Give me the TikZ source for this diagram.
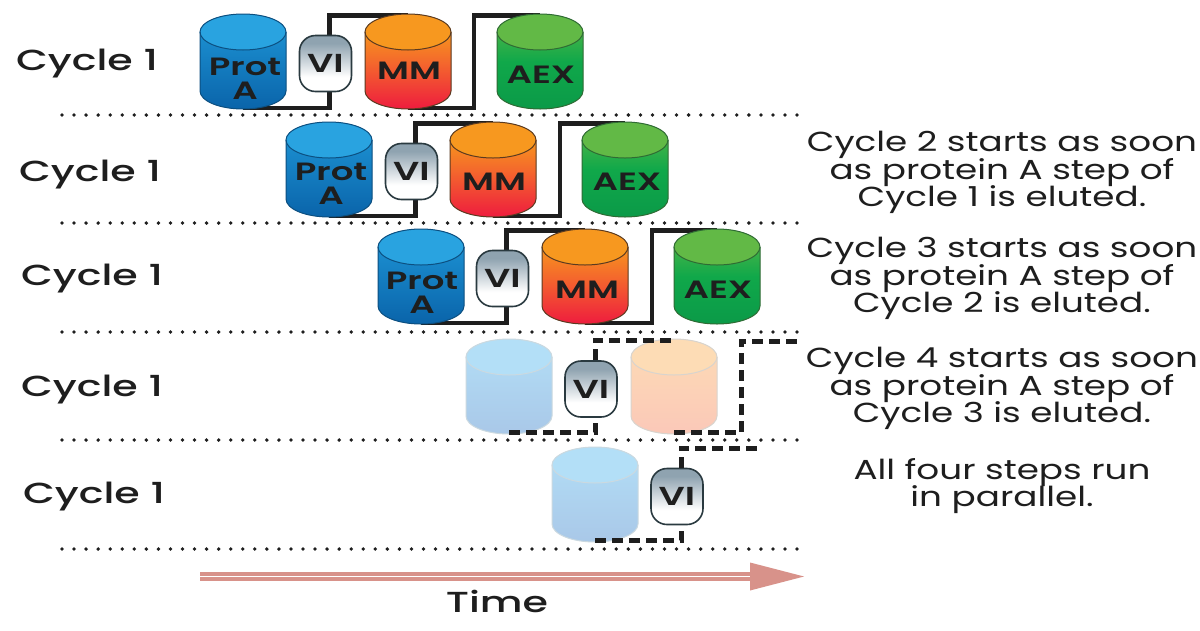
\documentclass[tikz,border=0pt]{standalone}
\usepackage{fontspec}
\setmainfont{Poppins}
\newfontfamily\notefont[FakeStretch=1.3]{Poppins}
\newfontfamily\cyclefont[FakeStretch=1.42]{Poppins Medium}
\newfontfamily\cylfont[FakeStretch=1.42]{Poppins SemiBold}
\usetikzlibrary{backgrounds}
\normallineskiplimit=-20pt\relax
\lineskiplimit=-20pt\relax
\definecolor{ink}{HTML}{1E1E1E}
\definecolor{edge}{HTML}{2A3A40}
\definecolor{shaft}{HTML}{D8928A}
\definecolor{vitop}{HTML}{8FA3B0}
\definecolor{protlo}{HTML}{0A64AA}
\definecolor{prothi}{HTML}{1F98D8}
\definecolor{protcap}{HTML}{29A3E0}
\definecolor{protedge}{HTML}{0C4F80}
\definecolor{mmlo}{HTML}{EE1C3E}
\definecolor{mmmid}{HTML}{F4692C}
\definecolor{mmhi}{HTML}{F7941E}
\definecolor{mmcap}{HTML}{F7981F}
\definecolor{mmedge}{HTML}{5A3A20}
\definecolor{aexlo}{HTML}{0B9A48}
\definecolor{aexmid}{HTML}{10A84A}
\definecolor{aexhi}{HTML}{62B946}
\definecolor{aexedge}{HTML}{2F6B34}
\definecolor{lplo}{HTML}{A9C8E8}
\definecolor{lphi}{HTML}{B3DFF7}
\definecolor{lpedge}{HTML}{CBD9E0}
\definecolor{lmlo}{HTML}{FBC8B8}
\definecolor{lmhi}{HTML}{FDDCB5}
\definecolor{lmedge}{HTML}{D8D4CE}
\pgfdeclareverticalshading{vishade}{100bp}{color(0bp)=(white); color(25bp)=(white); color(38bp)=(white); color(68bp)=(vitop); color(75bp)=(vitop); color(100bp)=(vitop)}
\pgfdeclareverticalshading{protshade}{100bp}{color(0bp)=(protlo); color(25bp)=(protlo); color(75bp)=(prothi); color(100bp)=(prothi)}
\pgfdeclareverticalshading{mmshade}{100bp}{color(0bp)=(mmlo); color(25bp)=(mmlo); color(50bp)=(mmmid); color(65bp)=(mmhi); color(75bp)=(mmhi); color(100bp)=(mmhi)}
\pgfdeclareverticalshading{aexshade}{100bp}{color(0bp)=(aexlo); color(25bp)=(aexlo); color(50bp)=(aexmid); color(75bp)=(aexhi); color(100bp)=(aexhi)}
\pgfdeclareverticalshading{lpshade}{100bp}{color(0bp)=(lplo); color(25bp)=(lplo); color(75bp)=(lphi); color(100bp)=(lphi)}
\pgfdeclareverticalshading{lmshade}{100bp}{color(0bp)=(lmlo); color(25bp)=(lmlo); color(75bp)=(lmhi); color(100bp)=(lmhi)}
\tikzset{
  x=1pt,y=-1pt,
  pipe/.style={draw=ink,line width=4.4pt,line join=miter},
  dashpipe/.style={draw=ink,line width=5pt,dash pattern=on 11pt off 6pt,line join=miter},
  dotline/.style={draw=ink,line width=3.8pt,line cap=round,dash pattern=on 0pt off 12.05pt},
  vibox/.style={draw=edge,line width=1.6pt,rounded corners=16pt,shading=vishade,minimum width=52pt,minimum height=56pt,inner sep=0pt,text=ink,font=\cylfont\fontsize{26}{26}\selectfont},
  anchorbox/.style={minimum width=86pt,minimum height=92pt,inner sep=0pt},
  cyllabel/.style={text=ink,inner sep=0pt,align=center,font=\cylfont\fontsize{25}{24}\selectfont},
  cyclelabel/.style={text=ink,inner sep=0pt,font=\cyclefont\fontsize{29}{29}\selectfont},
  notelabel/.style={text=ink,inner sep=0pt,align=center,font=\notefont\fontsize{27.5}{27.2}\selectfont},
  prot/.style={shading=protshade},
  mm/.style={shading=mmshade},
  aex/.style={shading=aexshade},
  lprot/.style={shading=lpshade},
  lmm/.style={shading=lmshade},
}
% name, cx, top, body style, cap colour, edge colour
\newcommand{\cylshape}[6]{%
  \path[#4] ({#2-43},{#3+18}) -- ({#2-43},{#3+77}) arc[start angle=180,end angle=360,x radius=43pt,y radius=18pt] -- ({#2+43},{#3+18}) arc[start angle=0,end angle=180,x radius=43pt,y radius=18pt] -- cycle;
  \path[fill=#5] (#2,{#3+18}) ellipse[x radius=43pt,y radius=18pt];
  \draw[#6,line width=1pt] ({#2-43},{#3+18}) -- ({#2-43},{#3+77}) arc[start angle=180,end angle=360,x radius=43pt,y radius=18pt] -- ({#2+43},{#3+18});
  \draw[#6,line width=1pt] (#2,{#3+18}) ellipse[x radius=43pt,y radius=18pt];
  \node[anchorbox] (#1) at (#2,{#3+47.5}) {};
}
\begin{document}
\begin{tikzpicture}
\useasboundingbox (0,0) rectangle (1200,630);
\begin{scope}[on background layer]
\fill[white] (0,0) rectangle (1200,630);
\end{scope}
% cylinders
\cylshape{p1}{243}{14}{prot}{protcap}{protedge}
\cylshape{m1}{408}{14}{mm}{mmcap}{mmedge}
\cylshape{a1}{540}{14}{aex}{aexhi}{aexedge}
\cylshape{p2}{329}{122}{prot}{protcap}{protedge}
\cylshape{m2}{493}{122}{mm}{mmcap}{mmedge}
\cylshape{a2}{625}{122}{aex}{aexhi}{aexedge}
\cylshape{p3}{421}{229}{prot}{protcap}{protedge}
\cylshape{m3}{585}{229}{mm}{mmcap}{mmedge}
\cylshape{a3}{717}{229}{aex}{aexhi}{aexedge}
\cylshape{p4}{509}{339}{lprot}{lphi}{lpedge}
\cylshape{m4}{674}{339}{lmm}{lmhi}{lmedge}
\cylshape{p5}{595}{447}{lprot}{lphi}{lpedge}
% valves
\node[vibox] (v1) at (325.5,63.5) {VI};
\node[vibox] (v2) at (411.5,171.5) {VI};
\node[vibox] (v3) at (502.5,278.5) {VI};
\node[vibox] (v4) at (591,389) {VI};
\node[vibox] (v5) at (677,496.5) {VI};
% junctions
\coordinate (j1) at (474,0);
\coordinate (j2) at (560,0);
\coordinate (j3) at (652,0);
\coordinate (j4) at (741,0);
\coordinate (e4) at (803,341);
\coordinate (e5) at (760,448);
% pipes
\begin{pgfonlayer}{background}
\draw[pipe] (p1.south) -| ([xshift=4pt]v1.south);
\draw[pipe] ([xshift=4pt]v1.north) |- (m1.north);
\draw[pipe] (m1.south) -| (j1 |- a1.north) -- (a1.north);
\draw[pipe] (p2.south) -| ([xshift=4pt]v2.south);
\draw[pipe] ([xshift=4pt]v2.north) |- (m2.north);
\draw[pipe] (m2.south) -| (j2 |- a2.north) -- (a2.north);
\draw[pipe] (p3.south) -| ([xshift=4pt]v3.south);
\draw[pipe] ([xshift=4pt]v3.north) |- (m3.north);
\draw[pipe] (m3.south) -| (j3 |- a3.north) -- (a3.north);
\end{pgfonlayer}
\draw[dashpipe] (p4.south) -| ([xshift=4pt]v4.south);
\draw[dashpipe] ([xshift=4pt]v4.north) |- (m4.north);
\draw[dashpipe] (m4.south) -| (j4 |- e4) -- (e4);
\draw[dashpipe] (p5.south) -| ([xshift=4pt]v5.south);
\draw[dashpipe] ([xshift=4pt]v5.north) |- (e5);
% cylinder labels
\node[cyllabel] (tp1) at (245,78.5) {Prot\\A};
\node[cyllabel] (tm1) at (409,71) {MM};
\node[cyllabel] (ta1) at (541,75) {AEX};
\node[cyllabel] (tp2) at (331,184) {Prot\\A};
\node[cyllabel] (tm2) at (494,182) {MM};
\node[cyllabel] (ta2) at (627,182) {AEX};
\node[cyllabel] (tp3) at (422,293) {Prot\\A};
\node[cyllabel] (tm3) at (587,290) {MM};
\node[cyllabel] (ta3) at (718,290) {AEX};
% dotted separators
\coordinate (d1a) at (62,115); \coordinate (d1b) at (805,115);
\coordinate (d2a) at (62,223); \coordinate (d2b) at (805,223);
\coordinate (d3a) at (62,332); \coordinate (d3b) at (805,332);
\coordinate (d4a) at (62,440); \coordinate (d4b) at (805,440);
\coordinate (d5a) at (62,549); \coordinate (d5b) at (805,549);
\draw[dotline] (d1a) -- (d1b);
\draw[dotline] (d2a) -- (d2b);
\draw[dotline] (d3a) -- (d3b);
\draw[dotline] (d4a) -- (d4b);
\draw[dotline] (d5a) -- (d5b);
% cycle labels
\node[cyclelabel] (c1) at (87,64) {Cycle 1};
\node[cyclelabel] (c2) at (90,175) {Cycle 1};
\node[cyclelabel] (c3) at (92,279) {Cycle 1};
\node[cyclelabel] (c4) at (92,390) {Cycle 1};
\node[cyclelabel] (c5) at (94,497) {Cycle 1};
% notes
\node[notelabel] (n2) at (1002,172.5) {Cycle 2 starts as soon\\as protein A step of\\Cycle 1 is eluted.};
\node[notelabel] (n3) at (1002,278.5) {Cycle 3 starts as soon\\as protein A step of\\Cycle 2 is eluted.};
\node[notelabel] (n4) at (1002,388.5) {Cycle 4 starts as soon\\as protein A step of\\Cycle 3 is eluted.};
\node[notelabel] (n5) at (1002,486) {All four steps run\\in parallel.};
% time arrow
\coordinate (t0) at (200,576.5);
\coordinate (t1) at (750,576.5);
\coordinate (t2) at (804,576.5);
\draw[shaft,line width=4pt] ([yshift=2.5pt]t0) -- ([yshift=2.5pt]t1);
\draw[shaft,line width=4pt] ([yshift=-2.5pt]t0) -- ([yshift=-2.5pt]t1);
\fill[shaft] ([yshift=14pt]t1) -- (t2) -- ([yshift=-14pt]t1) -- cycle;
\node[cyclelabel] (time) at (497,601) {Time};
\end{tikzpicture}
\end{document}
